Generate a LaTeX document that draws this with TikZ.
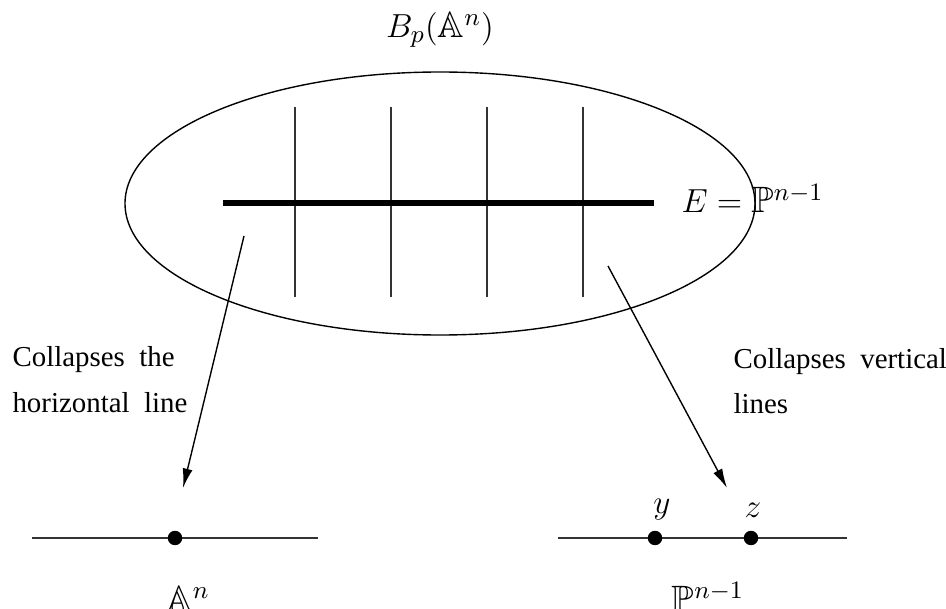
\documentclass[tikz,border=0pt]{standalone}
\usepackage{amssymb}
\usepackage{fontspec}
\setmainfont{Liberation Serif}
\usetikzlibrary{arrows.meta}
\newcommand\widesp{\spaceskip=5.2pt plus 1pt\relax}

\begin{document}
\begin{tikzpicture}[x=0.36pt,y=-0.36pt,
  thinline/.style={black!80, line width=0.5pt},
  arr/.style={-{Latex[length=7pt,width=3.6pt]}, line width=0.5pt},
  dot/.style={circle, fill, inner sep=0pt, minimum width=4.8pt, minimum height=5.2pt},
  lbl/.style={font=\fontsize{13.2}{15}\selectfont},
  txt/.style={align=left, inner sep=0pt,
    font={\fontsize{10.4}{16.5}\selectfont\widesp}}]
\useasboundingbox (0,0) rectangle (946,609);
% the blow-up
\draw[line width=0.5pt] (440,203.5) ellipse [x radius=315, y radius=131.5];
\foreach \x/\n in {295/1,391/2,487/3,583/4}{
  \draw[thinline] (\x,107) coordinate (vt\n) -- (\x,297) coordinate (vb\n);
}
\draw[line width=2.5pt] (223,203) coordinate (eL) -- (654,203) coordinate (eR);
\node[lbl, anchor=base west, inner sep=0pt] (E) at (681,213) {$E=\mathbb{P}^{n-1}$};
\node[lbl] (B) at (440,30) {$B_p(\mathbb{A}^n)$};
% the two lines below
\coordinate (aL) at (32,538);
\coordinate (aR) at (318,538);
\draw[thinline] (aL) -- (aR);
\node[dot] (p) at (175,538) {};
\node[lbl, anchor=base] (An) at (188,611) {$\mathbb{A}^n$};
\coordinate (bL) at (558,538);
\coordinate (bR) at (847,538);
\draw[thinline] (bL) -- (bR);
\node[dot] (py) at (655,538) {};
\node[dot] (pz) at (751,538) {};
\node[lbl] (ly) at (662,510) {$y$};
\node[lbl] (lz) at (753,510) {$z$};
\node[lbl, anchor=base] (Pn) at (708,611) {$\mathbb{P}^{n-1}$};
% maps
\coordinate (s1) at (244,236);
\coordinate (t1) at (183,488);
\coordinate (s2) at (608,266);
\coordinate (t2) at (727,488);
\draw[arr] (s1) -- (t1);
\draw[arr] (s2) -- (t2);
\node[txt, anchor=base west] (ch) at (12,412) {Collapses the\\horizontal line};
\node[txt, anchor=base west] (cv) at (733,414) {Collapses vertical\\lines};
\end{tikzpicture}
\end{document}
